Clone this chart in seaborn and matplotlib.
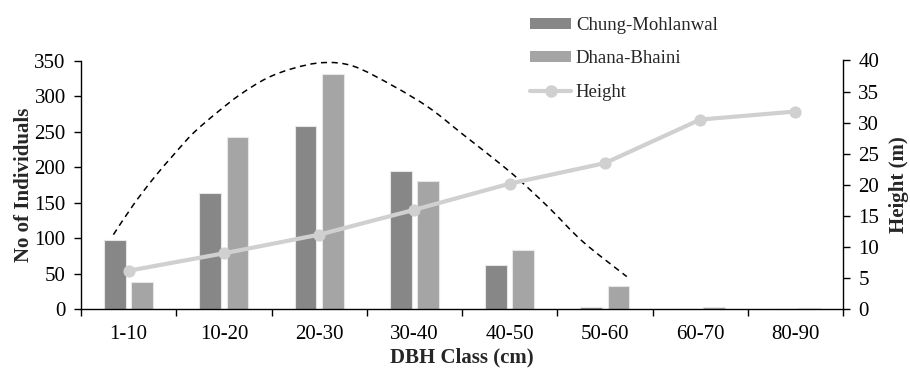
import numpy as np
import pandas as pd
import matplotlib
matplotlib.use("Agg")
import matplotlib.pyplot as plt
import seaborn as sns
from matplotlib.patches import Patch, PathPatch
from matplotlib.lines import Line2D
from matplotlib.path import Path

# ---- data ----
classes = ["1-10", "10-20", "20-30", "30-40", "40-50", "50-60", "60-70", "80-90"]
chung = [98, 163, 258, 195, 62, 3, 0, 0]
dhana = [38, 243, 331, 181, 83, 33, 3, 2]
height = [6.2, 9.0, 12.0, 16.0, 20.2, 23.5, 30.5, 31.8]
series_names = ["Chung-Mohlanwal", "Dhana-Bhaini", "Height"]
# dashed trend curve (x in category units, y in individuals)
trend_x = [-0.16, 0.05, 0.26, 0.47, 0.68, 0.93, 1.17, 1.45, 1.73, 2.04, 2.36,
           2.78, 3.16, 3.51, 3.87, 4.11, 4.42, 4.77, 5.23]
trend_y = [105, 147, 184, 217, 248, 277, 302, 325, 339, 347, 342,
           314, 283, 246, 208, 181, 142, 95, 46]

sns.set_theme(style="white")
plt.rcParams['font.family'] = ['Liberation Serif', 'DejaVu Serif']

df = pd.DataFrame({
    "cls": classes * 2,
    "n": chung + dhana,
    "site": [series_names[0]] * len(classes) + [series_names[1]] * len(classes),
})

fig = plt.figure(figsize=(9.1, 3.71), dpi=100)
ax = fig.add_axes([81 / 910, 1 - 309.3 / 371, (843 - 81) / 910, (309.3 - 60.5) / 371])

c_dark = "#878787"
c_light = "#a5a5a5"
c_line = "#d0d0d0"
TICK_FS = 15
LAB_FS = 15

sns.barplot(data=df, x="cls", y="n", hue="site", order=classes,
            palette=[c_dark, c_light], width=0.57, gap=0.2, ax=ax,
            legend=False, edgecolor="#e6e6e6", linewidth=0.8)

# smooth dashed trend curve through the read points (Catmull-Rom as Bezier segments)
pts = np.column_stack([trend_x, trend_y]).astype(float)
verts = [pts[0]]
codes = [Path.MOVETO]
for i in range(len(pts) - 1):
    p0 = pts[i - 1] if i > 0 else pts[i]
    p1 = pts[i]
    p2 = pts[i + 1]
    p3 = pts[i + 2] if i + 2 < len(pts) else pts[i + 1]
    verts += [p1 + (p2 - p0) / 6, p2 - (p3 - p1) / 6, p2]
    codes += [Path.CURVE4] * 3
ax.add_patch(PathPatch(Path(verts, codes), fill=False, edgecolor="black",
                       lw=1.1, ls=(0, (4, 3)), zorder=4))

ax.set_xlim(-0.5, len(classes) - 0.5)
ax.set_ylim(0, 350)
ax.set_yticks(range(0, 351, 50))
ax.set_xticks(range(len(classes)))
ax.set_xticklabels(classes)
ax.set_xticks(np.arange(-0.5, len(classes), 1.0), minor=True)
ax.tick_params(axis="x", which="major", length=0, pad=11, labelsize=TICK_FS, colors="black")
ax.tick_params(axis="x", which="minor", length=5, width=1, direction="out", color="black", bottom=True)
ax.tick_params(axis="y", length=5, width=1, direction="out", labelsize=TICK_FS, colors="black", left=True, pad=6)

for s in ["left", "bottom"]:
    ax.spines[s].set_color("black")
    ax.spines[s].set_linewidth(1)
ax.spines["top"].set_visible(False)
ax.spines["right"].set_visible(False)

ax.set_xlabel("DBH Class (cm)", fontsize=LAB_FS, fontweight="bold", labelpad=3)
ax.set_ylabel("No of Individuals", fontsize=LAB_FS, fontweight="bold", labelpad=0)

ax2 = ax.twinx()
sns.lineplot(x=np.arange(len(classes)), y=height, ax=ax2, color=c_line, lw=3,
             marker="o", markersize=8, markeredgecolor=c_line, zorder=5)
ax2.set_ylim(0, 40)
ax2.set_yticks(range(0, 41, 5))
ax2.tick_params(axis="y", length=5, width=1, direction="out", labelsize=TICK_FS, colors="black", right=True, pad=6)
ax2.spines["right"].set_color("black")
ax2.spines["right"].set_linewidth(1)
for s in ["top", "left", "bottom"]:
    ax2.spines[s].set_visible(False)
ax2.set_ylabel("Height (m)", fontsize=LAB_FS, fontweight="bold", labelpad=7)
ax2.set_xlim(-0.5, len(classes) - 0.5)

handles = [Patch(facecolor=c_dark, edgecolor="none"),
           Patch(facecolor=c_light, edgecolor="none"),
           Line2D([0], [0], color=c_line, lw=3, marker="o", markersize=8,
                  markeredgecolor=c_line)]
leg = fig.legend(handles, series_names, loc="upper left",
                 bbox_to_anchor=(513 / 910, 1.0), frameon=False, fontsize=13.5,
                 labelspacing=0.88, handlelength=2.2, handleheight=0.5,
                 handletextpad=0.25, borderpad=0.4)

fig.savefig("out.png", dpi=100)
